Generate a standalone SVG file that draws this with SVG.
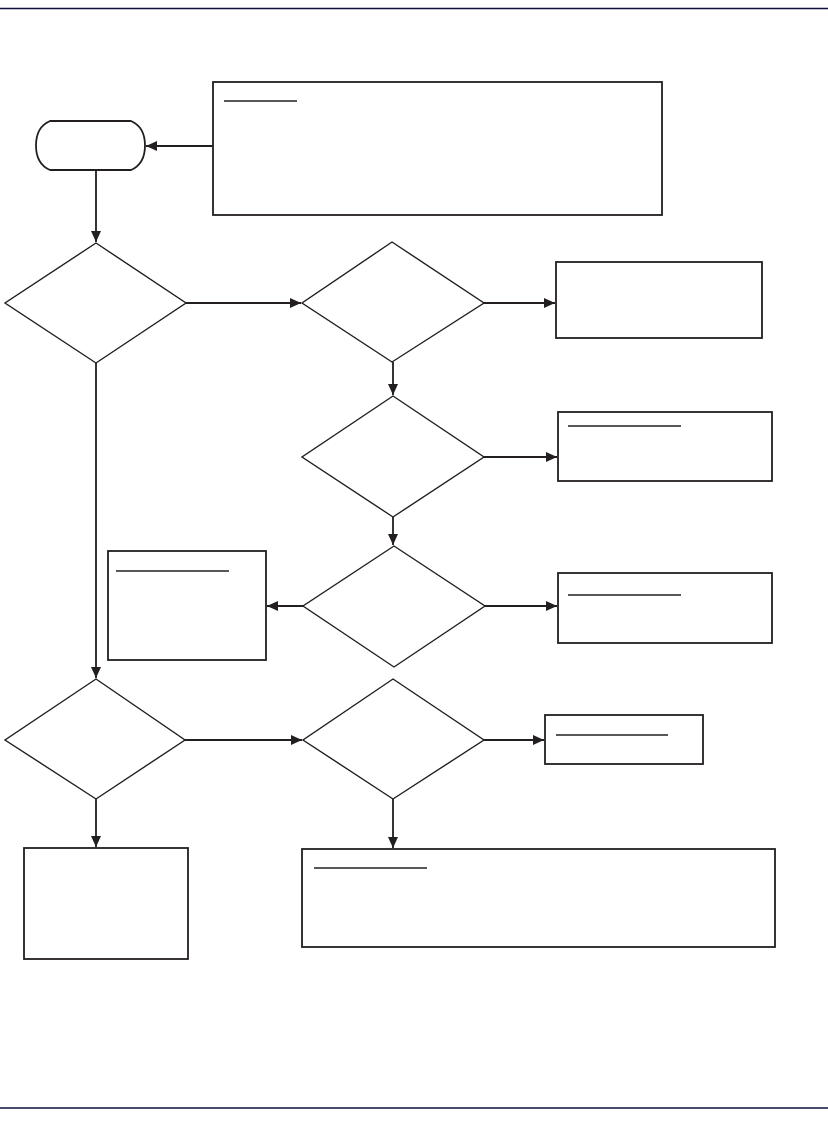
<svg xmlns="http://www.w3.org/2000/svg" width="828" height="1121" viewBox="0 0 828 1121">
<style>
.box{fill:#fff;stroke:#231f20;stroke-width:1.8}
.dia{fill:#fff;stroke:#231f20;stroke-width:1.4}
.ul{stroke:#231f20;stroke-width:1.3}
.con{fill:none;stroke:#231f20;stroke-width:1.8}
.rule{stroke:#0f0f3a;stroke-width:1.4}
</style>
<defs>
<marker id="ah" markerUnits="userSpaceOnUse" markerWidth="13" markerHeight="12" refX="11" refY="5" orient="auto">
<path d="M0,0 L11,5 L0,10 Z" fill="#231f20"/>
</marker>
</defs>
<rect width="828" height="1121" fill="#fff"/>
<line class="rule" x1="0" y1="8.5" x2="828" y2="8.5"/>
<line class="rule" x1="0" y1="1108" x2="828" y2="1108"/>

<g id="start">
<path class="box" d="M50,121 H131 Q145,127 145,145.5 Q145,164 131,170 H50 Q36,164 36,145.5 Q36,127 50,121 Z"/>
</g>
<g id="note-top">
<rect class="box" x="213" y="82" width="449" height="133"/>
<line class="ul" x1="224" y1="101" x2="297" y2="101"/>
</g>
<g id="d1"><polygon class="dia" points="96,243 186,303 96,363 5,303"/></g>
<g id="d2"><polygon class="dia" points="392,242 484,303 392,362 302,303"/></g>
<g id="boxA"><rect class="box" x="556" y="262" width="206" height="76"/></g>
<g id="d3"><polygon class="dia" points="393,396 484,457 393,517 302,457"/></g>
<g id="boxB">
<rect class="box" x="558" y="412" width="214" height="69"/>
<line class="ul" x1="568" y1="426" x2="681" y2="426"/>
</g>
<g id="d4"><polygon class="dia" points="394,546 485,606 394,667 303,606"/></g>
<g id="boxC">
<rect class="box" x="558" y="573" width="214" height="70"/>
<line class="ul" x1="568" y1="595" x2="681" y2="595"/>
</g>
<g id="boxD">
<rect class="box" x="108" y="551" width="158" height="109"/>
<line class="ul" x1="116" y1="571" x2="229" y2="571"/>
</g>
<g id="d5"><polygon class="dia" points="96,679 185,740 96,799 5,740"/></g>
<g id="d6"><polygon class="dia" points="393,679 484,740 393,799 303,740"/></g>
<g id="boxE">
<rect class="box" x="545" y="715" width="158" height="49"/>
<line class="ul" x1="556" y1="735" x2="668" y2="735"/>
</g>
<g id="boxF"><rect class="box" x="24" y="848" width="164" height="111"/></g>
<g id="boxG">
<rect class="box" x="302" y="849" width="473" height="98"/>
<line class="ul" x1="314" y1="868" x2="427" y2="868"/>
</g>

<g id="connectors">
<line class="con" x1="213" y1="146" x2="146" y2="146" marker-end="url(#ah)"/>
<line class="con" x1="96" y1="170" x2="96" y2="242" marker-end="url(#ah)"/>
<line class="con" x1="186" y1="303" x2="301" y2="303" marker-end="url(#ah)"/>
<line class="con" x1="484" y1="303" x2="555" y2="303" marker-end="url(#ah)"/>
<line class="con" x1="393" y1="362" x2="393" y2="395" marker-end="url(#ah)"/>
<line class="con" x1="484" y1="457" x2="557" y2="457" marker-end="url(#ah)"/>
<line class="con" x1="393" y1="517" x2="393" y2="545" marker-end="url(#ah)"/>
<line class="con" x1="485" y1="606" x2="557" y2="606" marker-end="url(#ah)"/>
<line class="con" x1="303" y1="606" x2="267" y2="606" marker-end="url(#ah)"/>
<line class="con" x1="96" y1="363" x2="96" y2="678" marker-end="url(#ah)"/>
<line class="con" x1="185" y1="740" x2="302" y2="740" marker-end="url(#ah)"/>
<line class="con" x1="484" y1="740" x2="544" y2="740" marker-end="url(#ah)"/>
<line class="con" x1="96" y1="799" x2="96" y2="847" marker-end="url(#ah)"/>
<line class="con" x1="393" y1="799" x2="393" y2="848" marker-end="url(#ah)"/>
</g>
</svg>
